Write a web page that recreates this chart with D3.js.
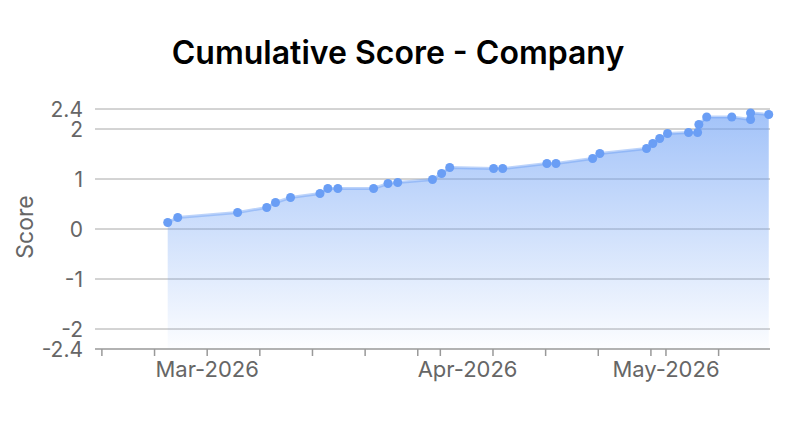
<!DOCTYPE html>
<html>
<head>
<meta charset="utf-8">
<script src="https://cdn.jsdelivr.net/npm/d3@7"></script>
<style>
  body { margin: 0; background: #fff; }
  text { font-family: Inter, "Noto Sans", sans-serif; }
</style>
</head>
<body>
<div class="chart"></div>
<script>
// cumulative score, one point per entry (UTC timestamps)
const dates = [
  '2026-02-23 18:00', '2026-02-25 02:00', '2026-03-05 01:00', '2026-03-08 22:00',
  '2026-03-10 02:00', '2026-03-12 02:00', '2026-03-16 00:00', '2026-03-17 01:00',
  '2026-03-18 09:00', '2026-03-23 03:00', '2026-03-25 01:00', '2026-03-26 08:00',
  '2026-03-30 23:00', '2026-04-01 04:00', '2026-04-02 06:00', '2026-04-08 02:00',
  '2026-04-09 07:00', '2026-04-15 04:00', '2026-04-16 09:00', '2026-04-21 06:00',
  '2026-04-22 05:00', '2026-04-28 10:00', '2026-04-29 06:00', '2026-04-30 04:00',
  '2026-05-01 05:00', '2026-05-04 00:00', '2026-05-05 05:00', '2026-05-05 09:00',
  '2026-05-06 10:00', '2026-05-09 18:00', '2026-05-12 06:00', '2026-05-12 06:00',
  '2026-05-14 16:00'
];
const scores = [
  0.13, 0.23, 0.33, 0.43, 0.53, 0.63, 0.71, 0.81,
  0.81, 0.81, 0.91, 0.93, 0.99, 1.11, 1.23, 1.21,
  1.21, 1.31, 1.31, 1.41, 1.51, 1.61, 1.71, 1.81,
  1.91, 1.93, 1.93, 2.09, 2.24, 2.24, 2.19, 2.32,
  2.29
];
const xDomain = ['2026-02-14 02:00', '2026-05-14 20:00'];
const xTickDates = [
  '2026-02-15', '2026-02-22', '2026-03-01', '2026-03-08', '2026-03-15',
  '2026-03-22', '2026-03-29', '2026-04-01', '2026-04-08', '2026-04-15',
  '2026-04-22', '2026-04-29', '2026-05-01', '2026-05-08'
];
const xLabelDates = ['2026-03-01', '2026-04-04 15:00', '2026-05-01'];
const xLabels = ['Mar-2026', 'Apr-2026', 'May-2026'];
const yTicks = [-2.4, -2, -1, 0, 1, 2, 2.4];

const parseT = d3.utcParse('%Y-%m-%d %H:%M');
const parseD = d3.utcParse('%Y-%m-%d');
const parse = s => s.length > 10 ? parseT(s) : parseD(s);

const data = dates.map((d, i) => ({date: parse(d), score: scores[i]}));

const width = 800;
const height = 431;
const margin = {top: 109, right: 30, bottom: 82, left: 95};

const svg = d3.select('.chart').append('svg')
  .attr('width', width)
  .attr('height', height);

const x = d3.scaleUtc()
  .domain(xDomain.map(parse))
  .range([margin.left, width - margin.right]);

const y = d3.scaleLinear()
  .domain([-2.4, 2.4])
  .range([height - margin.bottom, margin.top]);

const color = '#6a9ef5';

const defs = svg.append('defs');
const grad = defs.append('linearGradient')
  .attr('id', 'fillGrad')
  .attr('x1', 0).attr('y1', 0).attr('x2', 0).attr('y2', 1);
grad.append('stop').attr('offset', '0%').attr('stop-color', color).attr('stop-opacity', 0.62);
grad.append('stop').attr('offset', '100%').attr('stop-color', color).attr('stop-opacity', 0.02);

// title
svg.append('text')
  .attr('x', 398)
  .attr('y', 64)
  .attr('text-anchor', 'middle')
  .attr('font-size', 32)
  .attr('font-weight', 600)
  .attr('fill', '#000')
  .text('Cumulative Score - Company');

// gridlines
svg.append('g')
  .selectAll('line')
  .data(yTicks.filter(d => d > -2.4))
  .enter()
  .append('line')
  .attr('x1', margin.left)
  .attr('x2', width - margin.right)
  .attr('y1', d => y(d))
  .attr('y2', d => y(d))
  .attr('stroke', '#a8a8a8')
  .attr('stroke-width', 1);

// area + line
const area = d3.area()
  .x(d => x(d.date))
  .y0(y(-2.4))
  .y1(d => y(d.score));

svg.append('path')
  .datum(data)
  .attr('d', area)
  .attr('fill', 'url(#fillGrad)');

svg.append('path')
  .datum(data)
  .attr('d', d3.line().x(d => x(d.date)).y(d => y(d.score)))
  .attr('fill', 'none')
  .attr('stroke', color)
  .attr('stroke-opacity', 0.45)
  .attr('stroke-width', 3);

svg.append('g')
  .selectAll('circle')
  .data(data)
  .enter()
  .append('circle')
  .attr('cx', d => x(d.date))
  .attr('cy', d => y(d.score))
  .attr('r', 4.5)
  .attr('fill', color);

// y labels
svg.append('g')
  .selectAll('text')
  .data(yTicks)
  .enter()
  .append('text')
  .attr('x', 83)
  .attr('y', d => y(d))
  .attr('dy', '0.36em')
  .attr('text-anchor', 'end')
  .attr('font-size', 21)
  .attr('fill', '#666')
  .text(d => d);

svg.append('text')
  .attr('transform', `translate(33,227) rotate(-90)`)
  .attr('text-anchor', 'middle')
  .attr('font-size', 23)
  .attr('fill', '#666')
  .text('Score');

// x axis
const xAxis = svg.append('g');
xAxis.append('line')
  .attr('x1', margin.left)
  .attr('x2', width - margin.right)
  .attr('y1', y(-2.4))
  .attr('y2', y(-2.4))
  .attr('stroke', '#999')
  .attr('stroke-width', 1.5);

xAxis.selectAll('.tick')
  .data(xTickDates.map(parse))
  .enter()
  .append('line')
  .attr('class', 'tick')
  .attr('x1', d => x(d))
  .attr('x2', d => x(d))
  .attr('y1', y(-2.4))
  .attr('y2', y(-2.4) + 7)
  .attr('stroke', '#999')
  .attr('stroke-width', 1.5);

xAxis.selectAll('.xlabel')
  .data(xLabelDates.map(parse))
  .enter()
  .append('text')
  .attr('class', 'xlabel')
  .attr('x', d => x(d))
  .attr('y', 377)
  .attr('text-anchor', 'middle')
  .attr('font-size', 22)
  .attr('fill', '#666')
  .text((d, i) => xLabels[i]);
</script>
</body>
</html>
